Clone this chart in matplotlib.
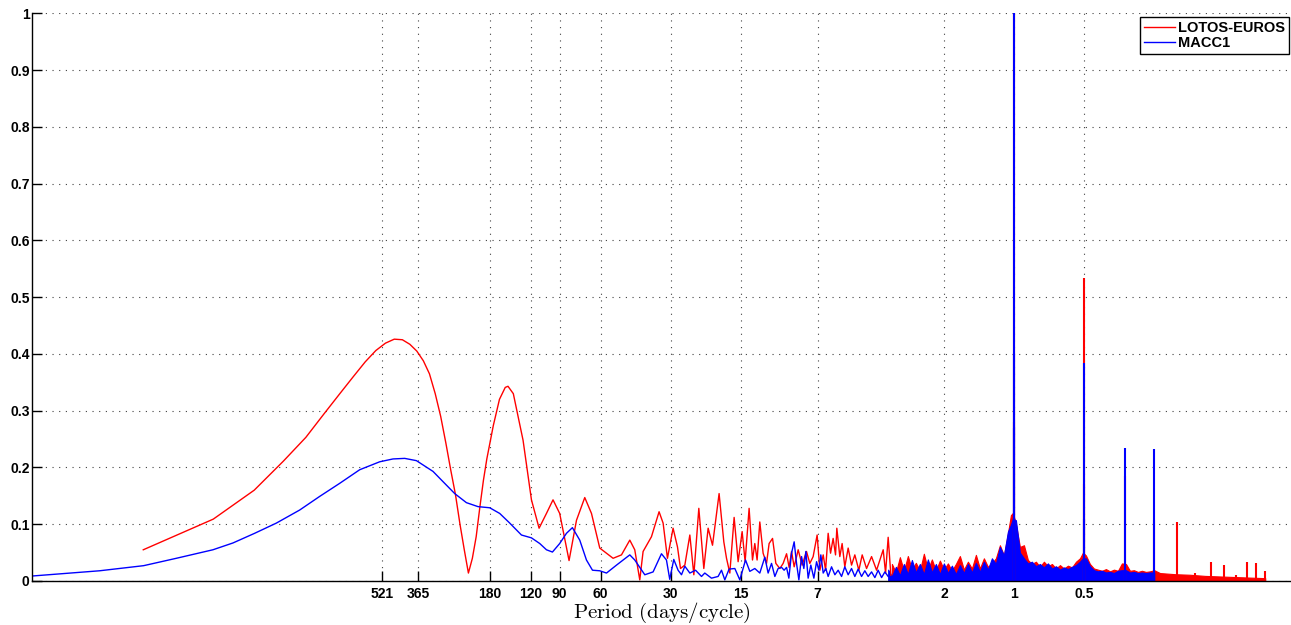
import matplotlib
matplotlib.use('Agg')
import matplotlib.pyplot as plt
from matplotlib.lines import Line2D

plt.rcParams['font.family'] = ['Liberation Sans', 'DejaVu Sans']
plt.rcParams['mathtext.fontset'] = 'cm'

# x axis is frequency (cycles/day), labelled with the period in days/cycle
period_ticks = [521, 365, 180, 120, 90, 60, 30, 15, 7, 2, 1, 0.5]
period_labels = ['521', '365', '180', '120', '90', '60', '30', '15', '7', '2', '1', '0.5']
y_ticks = [0, 0.1, 0.2, 0.3, 0.4, 0.5, 0.6, 0.7, 0.8, 0.9, 1.0]
y_labels = ['0', '0.1', '0.2', '0.3', '0.4', '0.5', '0.6', '0.7', '0.8', '0.9', '1']

# LOTOS-EUROS, resolved low-frequency part: frequency (cycles/day), normalised amplitude
lotos_freq = [1.8e-4, 3.6e-4, 5.4e-4, 7.2e-4, 9.0e-4, 1.08e-3, 1.26e-3, 1.44e-3, 1.62e-3,
              1.80e-3, 1.98e-3, 2.16e-3, 2.34e-3, 2.52e-3, 2.70e-3, 2.88e-3, 3.06e-3,
              3.24e-3, 3.42e-3, 3.60e-3, 3.78e-3, 3.96e-3, 4.14e-3, 4.32e-3, 4.50e-3,
              4.68e-3, 4.86e-3, 5.04e-3, 5.22e-3, 5.40e-3, 5.76e-3, 6.12e-3, 6.48e-3,
              6.66e-3, 7.02e-3, 7.73e-3, 8.40e-3, 9.06e-3, 9.745e-3, 0.01040, 0.01111,
              0.01219, 0.01312, 0.01424, 0.01522, 0.01652, 0.01885, 0.02048, 0.02224,
              0.02336, 0.02455, 0.02537, 0.02756, 0.02972, 0.03093, 0.03229, 0.03414,
              0.03566, 0.03674, 0.03835, 0.04030, 0.04193, 0.04405, 0.04628, 0.04830,
              0.05044, 0.05384, 0.05641, 0.05794, 0.05987, 0.06248, 0.06500, 0.06763,
              0.06966, 0.07247, 0.07494, 0.07667, 0.07844, 0.08056, 0.08324, 0.08610,
              0.08834, 0.09139, 0.09443, 0.09824, 0.1015, 0.1050, 0.1077, 0.1103, 0.1132,
              0.1178, 0.1225, 0.1279, 0.1322, 0.1366, 0.1421, 0.1460, 0.1509, 0.1545,
              0.1585, 0.1623, 0.1665, 0.1705, 0.1727, 0.1779, 0.1820, 0.1869, 0.1932,
              0.1998, 0.2064, 0.2148, 0.2220, 0.2318, 0.2436, 0.2560, 0.2733, 0.2798,
              0.2871, 0.2949]
lotos_amp = [0.055, 0.109, 0.160, 0.211, 0.253, 0.295, 0.330, 0.360, 0.386,
             0.406, 0.419, 0.426, 0.425, 0.417, 0.405, 0.388, 0.365,
             0.330, 0.290, 0.243, 0.195, 0.152, 0.100, 0.055, 0.014,
             0.040, 0.078, 0.130, 0.177, 0.215, 0.274, 0.320, 0.341,
             0.343, 0.330, 0.248, 0.143, 0.093, 0.119, 0.143, 0.119,
             0.036, 0.107, 0.147, 0.119, 0.058, 0.040, 0.046, 0.072,
             0.055, 0.002, 0.052, 0.078, 0.122, 0.102, 0.040, 0.093,
             0.060, 0.022, 0.028, 0.081, 0.011, 0.128, 0.022, 0.093,
             0.063, 0.154, 0.069, 0.040, 0.014, 0.112, 0.034, 0.087,
             0.034, 0.128, 0.037, 0.066, 0.037, 0.104, 0.049, 0.031,
             0.066, 0.075, 0.031, 0.022, 0.031, 0.048, 0.024, 0.052, 0.025,
             0.055, 0.028, 0.052, 0.031, 0.043, 0.081, 0.019, 0.046, 0.019,
             0.084, 0.049, 0.075, 0.046, 0.093, 0.043, 0.066, 0.025, 0.058,
             0.028, 0.046, 0.019, 0.046, 0.022, 0.043, 0.019, 0.055, 0.014,
             0.077, 0.010]

# LOTOS-EUROS, dense high-frequency part: upper envelope of the band
lotos_band_freq = [0.2979, 0.3099, 0.3224, 0.3354, 0.3489, 0.3631, 0.3777, 0.3929, 0.4088,
                   0.4253, 0.4426, 0.4604, 0.4791, 0.4984, 0.5186, 0.5395, 0.5613, 0.5840,
                   0.6076, 0.6322, 0.6577, 0.6843, 0.7119, 0.7407, 0.7706, 0.8017, 0.8341,
                   0.8679, 0.9030, 0.9395, 0.9678, 0.9872,
                   1.017, 1.058, 1.101, 1.145, 1.191, 1.240, 1.290, 1.342, 1.396, 1.453,
                   1.512, 1.573, 1.636, 1.702, 1.771, 1.843, 1.917, 1.975, 2.034, 2.116,
                   2.202, 2.291, 2.384, 2.480, 2.580, 2.684, 2.793, 2.905, 3.023, 3.145,
                   3.272, 3.404, 3.541, 3.686, 3.834, 4.0,
                   4.234, 4.912, 5.697, 6.611, 7.668, 8.897, 10.32, 12.0]
lotos_band_top = [0.030, 0.015, 0.042, 0.018, 0.044, 0.020, 0.032, 0.018, 0.048,
                  0.020, 0.038, 0.018, 0.036, 0.020, 0.031, 0.018, 0.030, 0.044,
                  0.020, 0.034, 0.022, 0.046, 0.022, 0.040, 0.025, 0.031, 0.040,
                  0.063, 0.045, 0.084, 0.116, 0.120,
                  0.100, 0.060, 0.063, 0.037, 0.030, 0.034, 0.025, 0.034, 0.026, 0.030,
                  0.022, 0.028, 0.022, 0.027, 0.024, 0.034, 0.040, 0.050, 0.045, 0.030,
                  0.022, 0.020, 0.018, 0.021, 0.017, 0.020, 0.018, 0.031, 0.030, 0.018,
                  0.019, 0.016, 0.018, 0.016, 0.017, 0.019,
                  0.014, 0.012, 0.011, 0.009, 0.008, 0.007, 0.006, 0.005]

# LOTOS-EUROS harmonic peaks
lotos_peak_freq = [0.996, 1.0, 1.995, 2.0, 3.0, 4.0, 5.0, 6.0, 7.0, 8.0, 9.0, 10.0, 11.0, 12.0]
lotos_peak_amp = [0.28, 1.0, 0.17, 0.534, 0.185, 0.107, 0.104, 0.014, 0.033, 0.028, 0.011,
                  0.033, 0.032, 0.018]

# MACC1, resolved low-frequency part
macc_freq = [6.0e-5, 1.168e-4, 1.806e-4, 2.497e-4, 3.587e-4, 4.374e-4, 5.42e-4, 6.722e-4,
             8.467e-4, 1.032e-3, 1.258e-3, 1.534e-3, 1.870e-3, 2.133e-3, 2.395e-3,
             2.690e-3, 3.171e-3, 3.500e-3, 3.930e-3, 4.412e-3, 4.950e-3, 5.557e-3,
             6.136e-3, 6.776e-3, 7.608e-3, 8.40e-3, 9.12e-3, 9.745e-3, 0.01034, 0.01111,
             0.01188, 0.01260, 0.01355, 0.01448, 0.01537, 0.01652, 0.01766, 0.01950,
             0.02224, 0.02336, 0.02580, 0.02801, 0.03043, 0.03197, 0.03303, 0.03437,
             0.03587, 0.03711, 0.03835, 0.04030, 0.04264, 0.04523, 0.04673, 0.04993,
             0.05331, 0.05513, 0.05697, 0.05945, 0.06291, 0.06610, 0.06994, 0.07298,
             0.07667, 0.08056, 0.08467, 0.08748, 0.09049, 0.09350, 0.09658, 0.09990,
             0.1025, 0.1050, 0.1074, 0.1103, 0.1132, 0.1159, 0.1186, 0.1218, 0.1246,
             0.1271, 0.1300, 0.1335, 0.1376, 0.1413, 0.1445, 0.1474, 0.1509, 0.1549,
             0.1585, 0.1639, 0.1694, 0.1750, 0.1810, 0.1869, 0.1932, 0.1998, 0.2064,
             0.2133, 0.2206, 0.2279, 0.2355, 0.2436, 0.2517, 0.2600, 0.2690, 0.2779,
             0.2871]
macc_amp = [0.0088, 0.018, 0.027, 0.040, 0.055, 0.067, 0.084, 0.102,
            0.125, 0.149, 0.172, 0.196, 0.210, 0.215, 0.216,
            0.212, 0.193, 0.175, 0.154, 0.138, 0.131, 0.129,
            0.119, 0.102, 0.081, 0.076, 0.066, 0.055, 0.051, 0.066,
            0.084, 0.094, 0.072, 0.037, 0.019, 0.018, 0.014, 0.028,
            0.046, 0.037, 0.011, 0.016, 0.048, 0.037, 0.003, 0.038,
            0.019, 0.011, 0.026, 0.014, 0.019, 0.008, 0.014, 0.005,
            0.008, 0.019, 0.002, 0.021, 0.022, 0.002, 0.037, 0.017,
            0.022, 0.014, 0.042, 0.014, 0.031, 0.008, 0.022, 0.024,
            0.019, 0.024, 0.005, 0.049, 0.069, 0.031, 0.002, 0.043, 0.022,
            0.052, 0.005, 0.028, 0.005, 0.034, 0.019, 0.046, 0.014, 0.022,
            0.008, 0.025, 0.011, 0.019, 0.008, 0.025, 0.011, 0.022, 0.008,
            0.021, 0.008, 0.018, 0.008, 0.016, 0.006, 0.019, 0.006, 0.016,
            0.008]

# MACC1, dense high-frequency part (3-hourly data, stops at 4 cycles/day)
macc_band_freq = [0.2871, 0.2979, 0.3099, 0.3224, 0.3354, 0.3489, 0.3631, 0.3777, 0.3929,
                  0.4088, 0.4253, 0.4426, 0.4604, 0.4791, 0.4984, 0.5186, 0.5395, 0.5613,
                  0.5840, 0.6076, 0.6322, 0.6577, 0.6843, 0.7119, 0.7407, 0.7706, 0.8017,
                  0.8341, 0.8679, 0.9030, 0.9395, 0.9678, 0.9872,
                  1.017, 1.058, 1.101, 1.145, 1.191, 1.240, 1.290, 1.342, 1.396, 1.453,
                  1.512, 1.573, 1.636, 1.702, 1.771, 1.843, 1.917, 1.975, 2.034, 2.116,
                  2.202, 2.291, 2.384, 2.480, 2.580, 2.684, 2.793, 2.905, 3.023, 3.145,
                  3.272, 3.404, 3.541, 3.686, 3.834, 4.0]
macc_band_top = [0.020, 0.008, 0.025, 0.010, 0.030, 0.012, 0.037, 0.015, 0.030,
                 0.012, 0.038, 0.015, 0.030, 0.012, 0.031, 0.014, 0.027, 0.012,
                 0.028, 0.014, 0.030, 0.015, 0.032, 0.016, 0.034, 0.020, 0.040,
                 0.030, 0.060, 0.045, 0.087, 0.099, 0.110,
                 0.107, 0.050, 0.040, 0.031, 0.034, 0.026, 0.030, 0.024, 0.031, 0.022,
                 0.026, 0.020, 0.024, 0.021, 0.025, 0.028, 0.034, 0.040, 0.040, 0.026,
                 0.019, 0.017, 0.018, 0.015, 0.016, 0.014, 0.018, 0.019, 0.019, 0.015,
                 0.016, 0.014, 0.015, 0.014, 0.015, 0.015]

# MACC1 harmonic peaks
macc_peak_freq = [0.998, 1.0, 1.002, 1.996, 2.0, 3.0, 4.0]
macc_peak_amp = [0.40, 1.0, 0.27, 0.11, 0.384, 0.234, 0.232]

RED = '#ff0000'
BLUE = '#0000ff'

fig = plt.figure(figsize=(12.91, 6.25), dpi=100)
ax = fig.add_axes([0.02502, 0.0704, 0.97498, 0.9083])

# LOTOS-EUROS first, MACC1 drawn over it
ax.plot(lotos_freq, lotos_amp, color=RED, lw=1.0)
ax.fill_between(lotos_band_freq, 0, lotos_band_top, color=RED, lw=0.8)
ax.vlines(lotos_peak_freq, 0, lotos_peak_amp, color=RED, lw=1.5)

ax.plot(macc_freq, macc_amp, color=BLUE, lw=1.0)
ax.fill_between(macc_band_freq, 0, macc_band_top, color=BLUE, lw=0.8)
ax.vlines(macc_peak_freq, 0, macc_peak_amp, color=BLUE, lw=1.5)

ax.set_xscale('log')
ax.set_xlim(6.0e-5, 15.49)
ax.set_ylim(0, 1)

ax.set_xticks([1.0 / p for p in period_ticks])
ax.set_xticklabels(period_labels)
ax.xaxis.set_minor_locator(matplotlib.ticker.NullLocator())
ax.set_yticks(y_ticks)
ax.set_yticklabels(y_labels)

for lab in ax.get_xticklabels() + ax.get_yticklabels():
    lab.set_fontweight('bold')
    lab.set_fontsize(10)
ax.tick_params(axis='both', direction='in', length=7.5, width=1, color='black')
ax.tick_params(axis='x', pad=4)
ax.tick_params(axis='y', pad=2)

ax.spines['top'].set_visible(False)
ax.spines['right'].set_visible(False)
ax.spines['left'].set_linewidth(1)
ax.spines['bottom'].set_linewidth(1)

ax.set_axisbelow(True)
ax.grid(True, linestyle=(0, (1, 5)), color='0.25', lw=0.8)

ax.set_xlabel(r'$\mathrm{Period\ (days/cycle)}$', fontsize=15, labelpad=0)

handles = [Line2D([], [], color=RED, lw=1.0), Line2D([], [], color=BLUE, lw=1.0)]
leg = ax.legend(handles, ['LOTOS-EUROS', 'MACC1'], loc='upper right',
                bbox_to_anchor=(0.9984, 0.9935), borderaxespad=0, fancybox=False,
                framealpha=1, edgecolor='black', handlelength=2.1, handletextpad=0.2,
                labelspacing=0.05, borderpad=0.3, prop={'weight': 'bold', 'size': 10.5})
leg.get_frame().set_linewidth(1)

fig.savefig('out.png', dpi=100)
